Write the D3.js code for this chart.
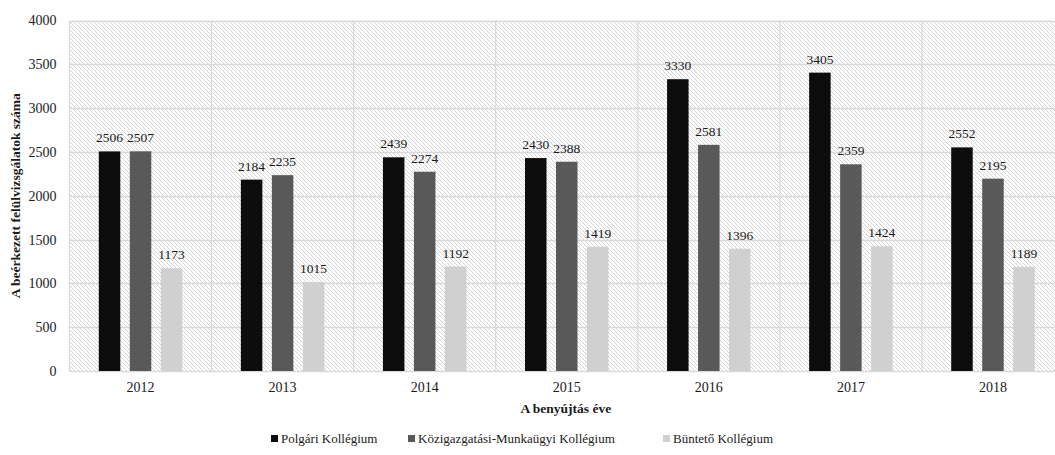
<!DOCTYPE html>
<html>
<head>
<meta charset="utf-8">
<script src="https://cdn.jsdelivr.net/npm/d3@7"></script>
<style>
  html, body { margin: 0; padding: 0; background: #fff; }
  svg text { font-family: 'Liberation Serif', 'Times New Roman', serif; }
</style>
</head>
<body>
<svg id="chart" width="1055" height="455"></svg>
<script>
// Beérkezett felülvizsgálatok száma kollégiumonként
const years = ["2012", "2013", "2014", "2015", "2016", "2017", "2018"];
const seriesNames = ["Polgári Kollégium", "Közigazgatási-Munkaügyi Kollégium", "Büntető Kollégium"];
const polgari = [2506, 2184, 2439, 2430, 3330, 3405, 2552];
const kozig = [2507, 2235, 2274, 2388, 2581, 2359, 2195];
const bunteto = [1173, 1015, 1192, 1419, 1396, 1424, 1189];
const yTicks = [0, 500, 1000, 1500, 2000, 2500, 3000, 3500, 4000];
const colors = ["#0d0d0d", "#595959", "#d0d0d0"];

const FONT = "Liberation Serif";
const seriesValues = [polgari, kozig, bunteto];
const svg = d3.select("#chart");

const plot = { left: 69.5, right: 1064, top: 20.5, bottom: 371 };

const x0 = d3.scaleBand().domain(years).range([plot.left, plot.right]).padding(0);
const groupW = 83.5;
const x1 = d3.scaleBand().domain(seriesNames)
  .range([(x0.bandwidth() - groupW) / 2, (x0.bandwidth() + groupW) / 2])
  .paddingInner(0.306).paddingOuter(0);
const y = d3.scaleLinear().domain([0, 4000]).range([plot.bottom, plot.top]);

// diagonal hatch for the plot background
const defs = svg.append("defs");
const pat = defs.append("pattern")
  .attr("id", "hatch").attr("patternUnits", "userSpaceOnUse")
  .attr("width", 4).attr("height", 4);
pat.append("rect").attr("width", 4).attr("height", 4).attr("fill", "#ffffff");
pat.append("path")
  .attr("d", "M0,0 L4,4 M-1,3 L1,5 M3,-1 L5,1")
  .attr("stroke", "#d6d6d6").attr("stroke-width", 1);

svg.append("rect")
  .attr("x", plot.left).attr("y", plot.top)
  .attr("width", plot.right - plot.left).attr("height", plot.bottom - plot.top)
  .attr("fill", "url(#hatch)");

// horizontal gridlines
svg.append("g").attr("class", "hgrid")
  .selectAll("line").data(yTicks).join("line")
  .attr("x1", plot.left).attr("x2", plot.right)
  .attr("y1", d => Math.round(y(d)) + 0.5).attr("y2", d => Math.round(y(d)) + 0.5)
  .attr("stroke", "#d9d9d9").attr("stroke-width", 1.3);

// vertical gridlines at category boundaries
const bounds = years.map(d => x0(d)).concat([plot.right]);
svg.append("g").attr("class", "vgrid")
  .selectAll("line").data(bounds).join("line")
  .attr("x1", d => d).attr("x2", d => d)
  .attr("y1", plot.top).attr("y2", plot.bottom)
  .attr("stroke", "#d9d9d9").attr("stroke-width", 1.3);

// bars
const rows = years.map((yr, i) => seriesNames.map((s, k) => ({ year: yr, series: s, k, value: seriesValues[k][i] })));
const groups = svg.append("g").selectAll("g").data(rows).join("g")
  .attr("transform", d => `translate(${x0(d[0].year)},0)`);

groups.selectAll("rect").data(d => d).join("rect")
  .attr("x", d => x1(d.series))
  .attr("y", d => y(d.value))
  .attr("width", x1.bandwidth())
  .attr("height", d => y(0) - y(d.value))
  .attr("fill", d => colors[d.k]);

groups.selectAll("text").data(d => d).join("text")
  .attr("x", d => x1(d.series) + x1.bandwidth() / 2)
  .attr("y", d => y(d.value) - 9)
  .attr("text-anchor", "middle")
  .attr("font-family", FONT)
  .attr("font-size", "13.5px")
  .attr("fill", "#1a1a1a")
  .text(d => d.value);

// y axis
const yAxis = d3.axisLeft(y).tickValues(yTicks).tickFormat(d3.format("d")).tickSize(0).tickPadding(13);
const yg = svg.append("g").attr("transform", `translate(${plot.left},0)`).call(yAxis);
yg.attr("font-family", FONT);
yg.select(".domain").remove();
yg.selectAll("text").attr("font-size", "14px").attr("fill", "#1a1a1a").attr("font-family", FONT);

// x axis
const xAxis = d3.axisBottom(x0).tickSize(0).tickPadding(11);
const xg = svg.append("g").attr("transform", `translate(0,${plot.bottom})`).call(xAxis);
xg.attr("font-family", FONT);
xg.select(".domain").remove();
xg.selectAll("text").attr("font-size", "14px").attr("fill", "#1a1a1a").attr("font-family", FONT);

// axis titles
svg.append("text")
  .attr("x", (plot.left + plot.right) / 2 - 1).attr("y", 413)
  .attr("text-anchor", "middle").attr("font-family", FONT)
  .attr("font-size", "13.5px").attr("font-weight", "bold")
  .attr("fill", "#1a1a1a")
  .text("A benyújtás éve");

svg.append("text")
  .attr("transform", `translate(20,${(plot.top + plot.bottom) / 2}) rotate(-90)`)
  .attr("text-anchor", "middle").attr("font-family", FONT)
  .attr("font-size", "13.5px").attr("font-weight", "bold")
  .attr("fill", "#1a1a1a")
  .text("A beérkezett felülvizsgálatok száma");

// legend
const legendX = [271, 408, 663];
const leg = svg.append("g").selectAll("g").data(seriesNames).join("g")
  .attr("transform", (d, i) => `translate(${legendX[i]},443)`);
leg.append("rect").attr("x", 0).attr("y", -8).attr("width", 7).attr("height", 7)
  .attr("fill", (d, i) => colors[i]);
leg.append("text").attr("x", 10).attr("y", 0)
  .attr("font-family", FONT)
  .attr("font-size", "13px").attr("fill", "#1a1a1a")
  .text(d => d);
</script>
</body>
</html>
